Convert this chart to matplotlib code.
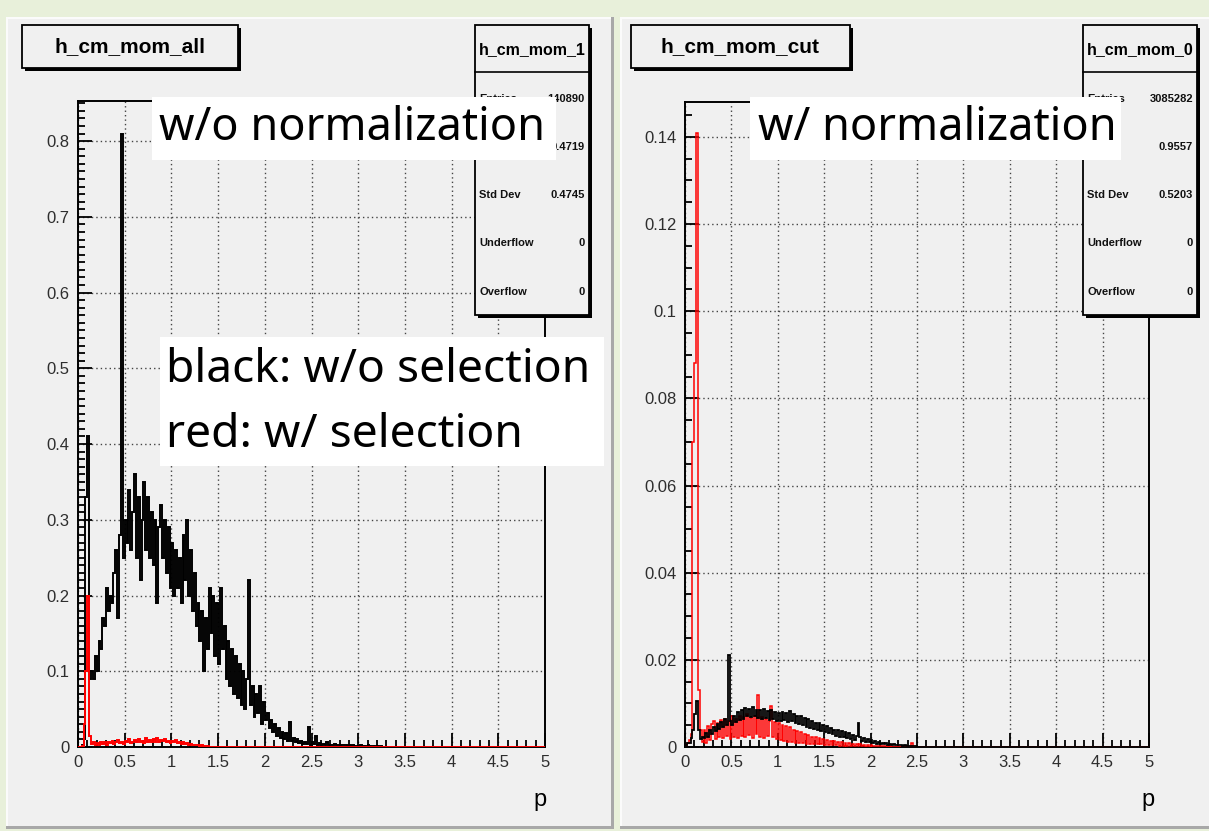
import numpy as np
import matplotlib
matplotlib.use("Agg")
import matplotlib.pyplot as plt
from matplotlib.patches import Rectangle
from matplotlib.ticker import FixedLocator, MultipleLocator

W, H = 1209, 831
BIN_W = 0.02
X_MAX = 5.0
NBINS = 250

# ---------------- data (bin contents, 0.02 wide bins starting at p=0) ----------------
left_black = [
    0.0, 0.0, 0.002, 0.01, 0.33, 0.41, 0.09, 0.10, 0.09, 0.12,
    0.10, 0.14, 0.13, 0.17, 0.16, 0.21, 0.18, 0.20, 0.19, 0.23,
    0.26, 0.17, 0.28, 0.81, 0.25, 0.30, 0.27, 0.34, 0.26, 0.31,
    0.36, 0.25, 0.33, 0.22, 0.30, 0.35, 0.26, 0.33, 0.25, 0.31,
    0.24, 0.30, 0.19, 0.29, 0.32, 0.25, 0.30, 0.23, 0.29, 0.21,
    0.27, 0.20, 0.26, 0.21, 0.25, 0.19, 0.28, 0.22, 0.30, 0.20,
    0.26, 0.18, 0.23, 0.16, 0.19, 0.14, 0.18, 0.10, 0.17, 0.13,
    0.21, 0.15, 0.20, 0.12, 0.19, 0.11, 0.21, 0.13, 0.16, 0.09,
    0.14, 0.08, 0.13, 0.07, 0.12, 0.065, 0.11, 0.055, 0.10, 0.05,
    0.09, 0.22, 0.055, 0.08, 0.04, 0.07, 0.045, 0.08, 0.03, 0.06,
    0.035, 0.045, 0.025, 0.035, 0.02, 0.03, 0.015, 0.025, 0.012, 0.02,
    0.01, 0.018, 0.008, 0.033, 0.008, 0.012, 0.006, 0.010, 0.005, 0.008,
    0.004, 0.007, 0.004, 0.027, 0.003, 0.006, 0.004, 0.015, 0.003, 0.005,
    0.002, 0.004, 0.003, 0.006, 0.002, 0.003, 0.002, 0.004, 0.002, 0.003,
    0.001, 0.003, 0.002, 0.002, 0.001, 0.002, 0.001, 0.003, 0.001, 0.001,
    0.001, 0.002, 0.001, 0.001, 0.0, 0.002, 0.001, 0.0, 0.001, 0.0,
    0.001, 0.0, 0.001, 0.0, 0.0,
]
left_red = [
    0.0, 0.0, 0.001, 0.03, 0.10, 0.20, 0.015, 0.004, 0.006, 0.003,
    0.005, 0.002, 0.006, 0.004, 0.007, 0.003, 0.006, 0.005, 0.008, 0.004,
    0.006, 0.009, 0.005, 0.007, 0.004, 0.008, 0.006, 0.010, 0.005, 0.007,
    0.009, 0.006, 0.011, 0.007, 0.008, 0.005, 0.012, 0.007, 0.009, 0.006,
    0.010, 0.007, 0.012, 0.006, 0.009, 0.008, 0.011, 0.006, 0.008, 0.005,
    0.008, 0.006, 0.009, 0.005, 0.007, 0.004, 0.006, 0.004, 0.005, 0.003,
    0.004, 0.002, 0.003, 0.002, 0.002, 0.001, 0.002, 0.001, 0.001, 0.001,
]
right_black = [
    0.0005, 0.001, 0.001, 0.002, 0.004, 0.0075, 0.0105, 0.004, 0.0018, 0.0022,
    0.0020, 0.0032, 0.0024, 0.0040, 0.0030, 0.0046, 0.0036, 0.0052, 0.0042, 0.0058,
    0.0046, 0.0064, 0.0050, 0.0210, 0.0060, 0.0050, 0.0072, 0.0058, 0.0080, 0.0062,
    0.0085, 0.0065, 0.0090, 0.0070, 0.0088, 0.0068, 0.0092, 0.0072, 0.0086, 0.0066,
    0.0084, 0.0064, 0.0088, 0.0066, 0.0082, 0.0062, 0.0085, 0.0064, 0.0080, 0.0060,
    0.0078, 0.0060, 0.0080, 0.0062, 0.0078, 0.0058, 0.0082, 0.0060, 0.0076, 0.0056,
    0.0072, 0.0052, 0.0070, 0.0050, 0.0066, 0.0046, 0.0064, 0.0044, 0.0060, 0.0042,
    0.0056, 0.0038, 0.0054, 0.0036, 0.0050, 0.0034, 0.0048, 0.0032, 0.0044, 0.0030,
    0.0040, 0.0026, 0.0038, 0.0024, 0.0036, 0.0022, 0.0034, 0.0020, 0.0032, 0.0019,
    0.0028, 0.0017, 0.0026, 0.0056, 0.0022, 0.0014, 0.0020, 0.0012, 0.0018, 0.0011,
    0.0015, 0.0009, 0.0013, 0.0008, 0.0012, 0.0007, 0.0010, 0.0006, 0.0009, 0.0005,
    0.0007, 0.0005, 0.0006, 0.0004, 0.0005, 0.0004, 0.0004, 0.0003, 0.0004, 0.0003,
    0.0003, 0.0002, 0.0002, 0.0002, 0.0002, 0.0001, 0.0001, 0.0001, 0.0001, 0.0001,
]
right_red = [
    0.0005, 0.001, 0.0015, 0.003, 0.07, 0.088, 0.141, 0.013, 0.004, 0.0012,
    0.0040, 0.0010, 0.0048, 0.0015, 0.0052, 0.0060, 0.0018, 0.0055, 0.0022, 0.0062,
    0.0020, 0.0065, 0.0025, 0.0060, 0.0018, 0.0070, 0.0024, 0.0064, 0.0020, 0.0072,
    0.0026, 0.0068, 0.0022, 0.0075, 0.0028, 0.0066, 0.0020, 0.0070, 0.0030, 0.0120,
    0.0024, 0.0068, 0.0020, 0.0064, 0.0026, 0.0060, 0.0094, 0.0022, 0.0058, 0.0018,
    0.0054, 0.0016, 0.0050, 0.0014, 0.0048, 0.0012, 0.0045, 0.0012, 0.0040, 0.0010,
    0.0036, 0.0010, 0.0034, 0.0009, 0.0030, 0.0008, 0.0027, 0.0008, 0.0024, 0.0007,
    0.0022, 0.0006, 0.0020, 0.0006, 0.0018, 0.0005, 0.0016, 0.0005, 0.0014, 0.0004,
    0.0013, 0.0004, 0.0012, 0.0003, 0.0011, 0.0003, 0.0010, 0.0003, 0.0009, 0.0002,
    0.0008, 0.0002, 0.0007, 0.0002, 0.0006, 0.0002, 0.0005, 0.0001, 0.0005, 0.0001,
    0.0004, 0.0003, 0.0003, 0.0002, 0.0003, 0.0002, 0.0002, 0.0002, 0.0002, 0.0001,
    0.0002, 0.0001, 0.0001, 0.0001, 0.0001, 0.0001, 0.0001, 0.0001, 0.0001, 0.0001,
    0.0001, 0.0001, 0.0010, 0.0001, 0.0,
]

x_ticks = [0, 0.5, 1, 1.5, 2, 2.5, 3, 3.5, 4, 4.5, 5]
x_tick_labels = ["0", "0.5", "1", "1.5", "2", "2.5", "3", "3.5", "4", "4.5", "5"]
left_y_ticks = [0, 0.1, 0.2, 0.3, 0.4, 0.5, 0.6, 0.7, 0.8]
left_y_labels = ["0", "0.1", "0.2", "0.3", "0.4", "0.5", "0.6", "0.7", "0.8"]
right_y_ticks = [0, 0.02, 0.04, 0.06, 0.08, 0.1, 0.12, 0.14]
right_y_labels = ["0", "0.02", "0.04", "0.06", "0.08", "0.1", "0.12", "0.14"]

left_title = "h_cm_mom_all"
right_title = "h_cm_mom_cut"
left_stats_name = "h_cm_mom_1"
right_stats_name = "h_cm_mom_0"
stat_labels = ["Entries", "Mean", "Std Dev", "Underflow", "Overflow"]
left_stat_values = ["140890", "0.4719", "0.4745", "0", "0"]
right_stat_values = ["3085282", "0.9557", "0.5203", "0", "0"]

note_left_top = "w/o normalization"
note_right_top = "w/ normalization"
note_left_mid = ["black: w/o selection", "red: w/ selection"]
x_label = "p"

# ---------------- figure ----------------
fig = plt.figure(figsize=(W / 100, H / 100), dpi=100)
fig.patch.set_facecolor("#e8f0da")

PANEL = "#f0f0f0"
HELV = ["Liberation Sans", "DejaVu Sans"]
NOTE_FONT = ["Noto Sans", "DejaVu Sans"]
NOTE_SIZE = 32.5
NOTE_SIZE_MID = 33.3


def fx(x):
    return x / W


def fy(y):
    return 1 - y / H


def prect(x0, y0, x1, y1, z=1, **kw):
    r = Rectangle((fx(x0), fy(y1)), (x1 - x0) / W, (y1 - y0) / H,
                  transform=fig.transFigure, zorder=z, **kw)
    fig.add_artist(r)
    return r


def ptext(x, y, s, z=5, **kw):
    return fig.text(fx(x), fy(y), s, zorder=z, **kw)


def panel(x0, y0, x1, y1):
    prect(x0, y0, x1, y1, z=-5, facecolor=PANEL, edgecolor="none")
    prect(x0, y0, x1, y0 + 2, z=-4, facecolor="#fbfbfb", edgecolor="none")
    prect(x0, y0, x0 + 2, y1, z=-4, facecolor="#fbfbfb", edgecolor="none")
    prect(x0, y1 - 3, x1, y1, z=-4, facecolor="#a8a8a8", edgecolor="none")
    prect(x1 - 3, y0, x1, y1, z=-4, facecolor="#a8a8a8", edgecolor="none")


panel(6, 17, 614, 829)
panel(620, 17, 1215, 829)


def make_axes(x0, x1, ytop, ybot, ymax, yticks, ylabels, yminor):
    ax = fig.add_axes([fx(x0), fy(ybot), (x1 - x0) / W, (ybot - ytop) / H])
    ax.set_facecolor("none")
    ax.set_xlim(0, X_MAX)
    ax.set_ylim(0, ymax)
    ax.xaxis.set_major_locator(FixedLocator(x_ticks))
    ax.set_xticklabels(x_tick_labels)
    ax.xaxis.set_minor_locator(MultipleLocator(0.1))
    ax.yaxis.set_major_locator(FixedLocator(yticks))
    ax.set_yticklabels(ylabels)
    ax.yaxis.set_minor_locator(MultipleLocator(yminor))
    ax.tick_params(which="both", direction="in", top=False, right=False,
                   color="black", width=1.3)
    ax.tick_params(which="major", length=10, labelsize=12, labelcolor="#2e2e2e", pad=6)
    ax.tick_params(which="minor", length=5)
    for lab in ax.get_xticklabels() + ax.get_yticklabels():
        lab.set_family(HELV)
    ax.grid(which="major", linestyle=(0, (1, 2.2)), color="#444444", linewidth=1.0)
    for s in ax.spines.values():
        s.set_linewidth(1.4)
        s.set_color("black")
    return ax


edges = np.arange(NBINS + 1) * BIN_W


def hist(ax, vals, color, z, lw=1.4):
    # bins beyond the listed ones are empty
    v = np.pad(np.asarray(vals, float), (0, NBINS - len(vals)))
    ax.stairs(v, edges, color=color, linewidth=lw, zorder=z, baseline=0)


axL = make_axes(78, 545, 101, 747, 0.853, left_y_ticks, left_y_labels, 0.01)
hist(axL, left_black, "black", 3)
hist(axL, left_red, "#ff0000", 4)

axR = make_axes(685, 1149, 102, 747, 0.148, right_y_ticks, right_y_labels, 0.005)
hist(axR, right_red, "#ff0000", 3, lw=1.1)
hist(axR, right_black, "black", 4, lw=1.3)

ptext(540, 800, x_label, ha="center", va="center", fontsize=17, family=HELV)
ptext(1148, 800, x_label, ha="center", va="center", fontsize=17, family=HELV)


# ---------------- title boxes ----------------
def shadow_box(x0, y0, x1, y1, z, sh=3):
    prect(x0 + sh, y0 + sh, x1 + sh, y1 + sh, z=z, facecolor="black", edgecolor="none")
    prect(x0, y0, x1, y1, z=z + 0.1, facecolor=PANEL, edgecolor="black", linewidth=1.3)


shadow_box(22, 25, 238, 68, 6)
ptext(130, 47, left_title, z=7, ha="center", va="center", fontsize=15,
      weight="bold", family=HELV)
shadow_box(631, 25, 850, 68, 6)
ptext(740, 47, right_title, z=7, ha="center", va="center", fontsize=15,
      weight="bold", family=HELV)


# ---------------- stats boxes ----------------
def stats_box(x0, x1, name, values):
    y0, y1 = 25, 315
    shadow_box(x0, y0, x1, y1, 6)
    fig.add_artist(plt.Line2D([fx(x0), fx(x1)], [fy(72), fy(72)],
                              transform=fig.transFigure, color="black", lw=1.2, zorder=7))
    ptext((x0 + x1) / 2, 50, name, z=7, ha="center", va="center", fontsize=11.5,
          weight="bold", family=HELV)
    rows_y = [99, 147, 195, 243, 292]
    for lab, val, yy in zip(stat_labels, values, rows_y):
        if lab != "Mean":  # the "Mean" label is hidden under the white note box
            ptext(x0 + 4, yy, lab, z=7, ha="left", va="center", fontsize=8,
                  weight="bold", family=HELV, color="#111111")
        ptext(x1 - 4, yy, val, z=7, ha="right", va="center", fontsize=8,
              weight="bold", family=HELV, color="#111111")


stats_box(475, 589, left_stats_name, left_stat_values)
stats_box(1083, 1197, right_stats_name, right_stat_values)

# ---------------- white annotation boxes ----------------
prect(152, 97, 556, 160, z=10, facecolor="white", edgecolor="none")
ptext(159, 128, note_left_top, z=11, ha="left", va="center", fontsize=NOTE_SIZE,
      family=NOTE_FONT)

prect(750, 97, 1121, 160, z=10, facecolor="white", edgecolor="none")
ptext(758, 128, note_right_top, z=11, ha="left", va="center", fontsize=NOTE_SIZE,
      family=NOTE_FONT)

prect(160, 337, 604, 466, z=10, facecolor="white", edgecolor="none")
ptext(166, 370, note_left_mid[0], z=11, ha="left", va="center", fontsize=NOTE_SIZE_MID,
      family=NOTE_FONT)
ptext(166, 435, note_left_mid[1], z=11, ha="left", va="center", fontsize=NOTE_SIZE_MID,
      family=NOTE_FONT)

fig.savefig("out.png", dpi=100, facecolor=fig.get_facecolor())
